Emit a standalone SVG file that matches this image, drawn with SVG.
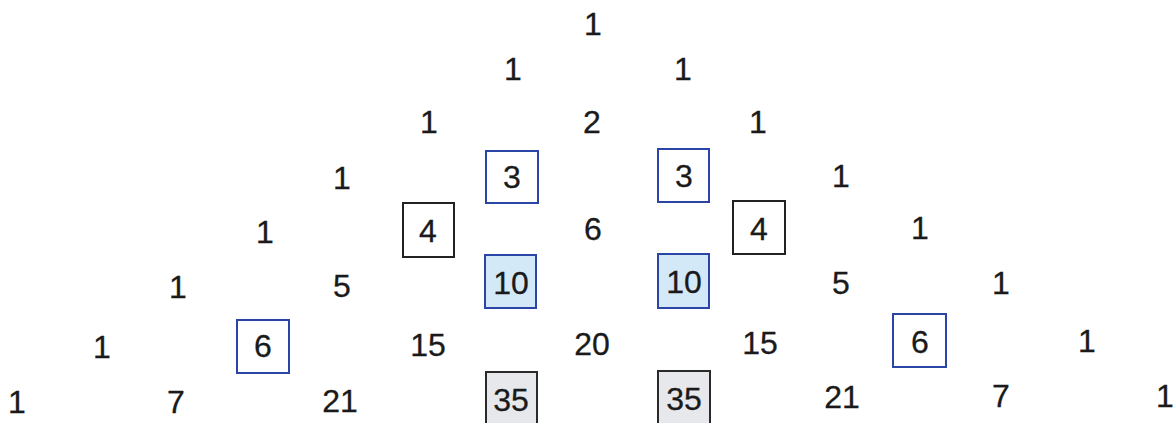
<svg xmlns="http://www.w3.org/2000/svg" width="1175" height="423" viewBox="0 0 1175 423">
  <style>
    text { font-family: "Liberation Sans", Arial, sans-serif; font-size: 32px; fill: #1a1a1a; stroke: #1a1a1a; stroke-width: 0.3; text-anchor: middle; }
    .bb { fill: #ffffff; stroke: #2b45a6; stroke-width: 2; }
    .bk { fill: #ffffff; stroke: #222222; stroke-width: 2; }
    .bl { fill: #d4e9f8; stroke: #2b45a6; stroke-width: 2; }
    .gr { fill: #e6e8eb; stroke: #2a2a2a; stroke-width: 2; }
  </style>
  <rect x="0" y="0" width="1175" height="423" fill="#ffffff"/>
  <g id="connectors"></g>
  <!-- row 0 -->
  <g id="n0_0"><text x="593" y="35">1</text></g>
  <!-- row 1 -->
  <g id="n1_0"><text x="513" y="80">1</text></g>
  <g id="n1_1"><text x="683" y="80">1</text></g>
  <!-- row 2 -->
  <g id="n2_0"><text x="429" y="133">1</text></g>
  <g id="n2_1"><text x="592" y="133">2</text></g>
  <g id="n2_2"><text x="758" y="133">1</text></g>
  <!-- row 3 -->
  <g id="n3_0"><text x="342" y="189">1</text></g>
  <g id="n3_1"><rect class="bb" x="486" y="151" width="52" height="52"/><text x="512" y="188">3</text></g>
  <g id="n3_2"><rect class="bb" x="658" y="149" width="51" height="53"/><text x="684" y="187">3</text></g>
  <g id="n3_3"><text x="841" y="187">1</text></g>
  <!-- row 4 -->
  <g id="n4_0"><text x="265" y="243">1</text></g>
  <g id="n4_1"><rect class="bk" x="403" y="203" width="51" height="54"/><text x="428" y="242">4</text></g>
  <g id="n4_2"><text x="593" y="240">6</text></g>
  <g id="n4_3"><rect class="bk" x="733" y="201" width="52" height="53"/><text x="759" y="240">4</text></g>
  <g id="n4_4"><text x="920" y="239">1</text></g>
  <!-- row 5 -->
  <g id="n5_0"><text x="178" y="298">1</text></g>
  <g id="n5_1"><text x="342" y="297">5</text></g>
  <g id="n5_2"><rect class="bl" x="485" y="255" width="51" height="53"/><text x="511" y="294">10</text></g>
  <g id="n5_3"><rect class="bl" x="658" y="254" width="51" height="54"/><text x="684" y="293">10</text></g>
  <g id="n5_4"><text x="841" y="294">5</text></g>
  <g id="n5_5"><text x="1001" y="294">1</text></g>
  <!-- row 6 -->
  <g id="n6_0"><text x="102" y="358">1</text></g>
  <g id="n6_1"><rect class="bb" x="237" y="320" width="52" height="53"/><text x="263" y="357">6</text></g>
  <g id="n6_2"><text x="428" y="356">15</text></g>
  <g id="n6_3"><text x="592" y="355">20</text></g>
  <g id="n6_4"><text x="760" y="354">15</text></g>
  <g id="n6_5"><rect class="bb" x="893" y="314" width="53" height="53"/><text x="920" y="353">6</text></g>
  <g id="n6_6"><text x="1087" y="352">1</text></g>
  <!-- row 7 -->
  <g id="n7_0"><text x="17" y="413">1</text></g>
  <g id="n7_1"><text x="176" y="413">7</text></g>
  <g id="n7_2"><text x="340" y="412">21</text></g>
  <g id="n7_3"><rect class="gr" x="486" y="372" width="51" height="60"/><text x="511" y="411">35</text></g>
  <g id="n7_4"><rect class="gr" x="658" y="371" width="52" height="60"/><text x="684" y="410">35</text></g>
  <g id="n7_5"><text x="842" y="408">21</text></g>
  <g id="n7_6"><text x="1001" y="407">7</text></g>
  <g id="n7_7"><text x="1165" y="407">1</text></g>
</svg>
